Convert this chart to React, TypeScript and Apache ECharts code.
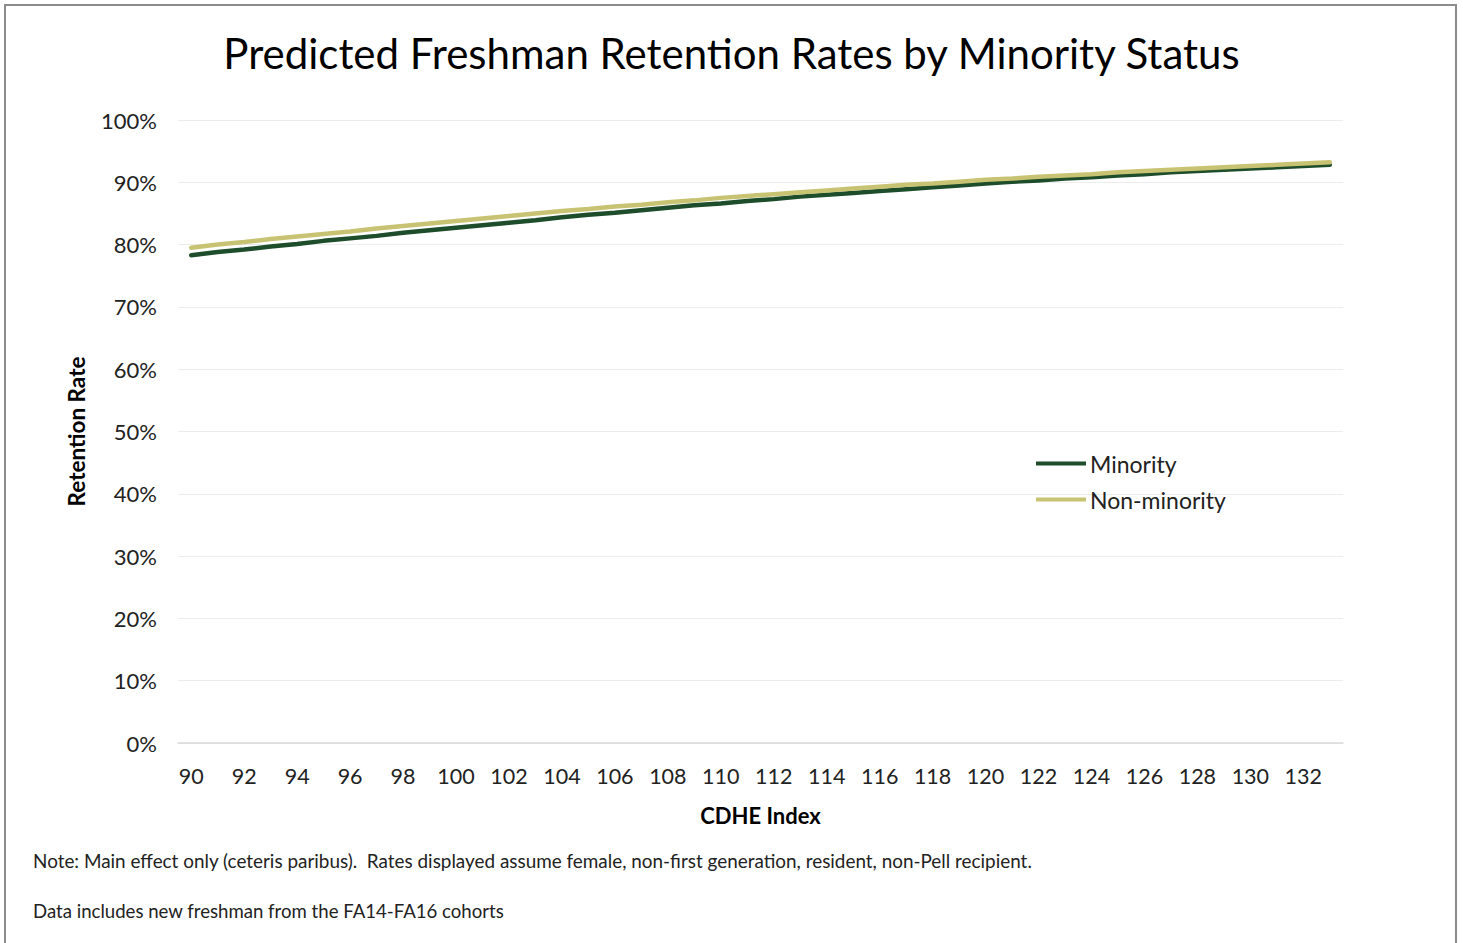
import React, { useEffect, useRef } from "react";
import * as echarts from "echarts";

const categories: string[] = [
  "90","91","92","93","94","95","96","97","98","99",
  "100","101","102","103","104","105","106","107","108","109",
  "110","111","112","113","114","115","116","117","118","119",
  "120","121","122","123","124","125","126","127","128","129",
  "130","131","132","133",
];

const minority: number[] = [
  78.3, 78.8, 79.2, 79.7, 80.1, 80.6, 81.0, 81.4, 81.9, 82.3,
  82.7, 83.1, 83.5, 83.9, 84.4, 84.8, 85.1, 85.5, 85.9, 86.3,
  86.6, 87.0, 87.3, 87.7, 88.0, 88.3, 88.6, 88.9, 89.2, 89.5,
  89.8, 90.1, 90.3, 90.6, 90.8, 91.1, 91.3, 91.6, 91.8, 92.0,
  92.2, 92.4, 92.6, 92.8,
];

const nonMinority: number[] = [
  79.5, 80.0, 80.4, 80.9, 81.3, 81.7, 82.1, 82.6, 83.0, 83.4,
  83.8, 84.2, 84.6, 85.0, 85.4, 85.7, 86.1, 86.4, 86.8, 87.1,
  87.5, 87.8, 88.1, 88.4, 88.7, 89.0, 89.3, 89.6, 89.8, 90.1,
  90.4, 90.6, 90.9, 91.1, 91.3, 91.6, 91.8, 92.0, 92.2, 92.4,
  92.6, 92.8, 93.0, 93.2,
];

const seriesNames: string[] = ["Minority", "Non-minority"];
const titleText = "Predicted Freshman Retention Rates by Minority Status";
const xAxisName = "CDHE Index";
const yAxisName = "Retention Rate";
const noteLines: string[] = [
  "Note: Main effect only (ceteris paribus).  Rates displayed assume female, non-first generation, resident, non-Pell recipient.",
  "Data includes new freshman from the FA14-FA16 cohorts",
];

const FONT = "Lato, 'Open Sans', sans-serif";

export default function App() {
  const ref = useRef<HTMLDivElement>(null);
  useEffect(() => {
    document.body.style.margin = "0";
    if (!ref.current) return;
    const chart = echarts.init(ref.current, null, { renderer: "svg" });
    chart.setOption({
      animation: false,
      backgroundColor: "#ffffff",
      textStyle: { fontFamily: FONT },
      title: {
        text: titleText,
        left: "center",
        top: 27,
        textStyle: { fontFamily: FONT, fontSize: 42, fontWeight: "normal", color: "#000" },
      },
      grid: { left: 178, right: 120, top: 120, bottom: 200, containLabel: false },
      legend: {
        orient: "vertical",
        left: 1031,
        top: 447,
        itemWidth: 50,
        itemHeight: 4,
        itemGap: 13,
        icon: "rect",
        textStyle: { fontFamily: FONT, fontSize: 23, color: "#222", padding: [0, 0, 0, -1] },
        data: [
          { name: seriesNames[0], itemStyle: { color: "#1E4D2B" } },
          { name: seriesNames[1], itemStyle: { color: "#C8C372" } },
        ],
      },
      xAxis: {
        type: "category",
        data: categories,
        boundaryGap: true,
        name: xAxisName,
        nameLocation: "middle",
        nameGap: 61,
        nameTextStyle: { fontFamily: FONT, fontSize: 22, fontWeight: "bold", color: "#000" },
        axisLine: { lineStyle: { color: "#d9d9d9", width: 1.5 } },
        axisTick: { show: false },
        axisLabel: { interval: 1, fontSize: 21.5, color: "#222", margin: 22, fontFamily: FONT },
      },
      yAxis: {
        type: "value",
        min: 0,
        max: 100,
        interval: 10,
        name: yAxisName,
        nameLocation: "middle",
        nameGap: 90,
        nameRotate: 90,
        nameTextStyle: { fontFamily: FONT, fontSize: 22.5, fontWeight: "bold", color: "#000" },
        axisLine: { show: false },
        axisTick: { show: false },
        axisLabel: { formatter: "{value}%", fontSize: 22, color: "#222", margin: 21, fontFamily: FONT },
        splitLine: { lineStyle: { color: "#ececec", width: 1 } },
      },
      series: [
        {
          name: seriesNames[0],
          type: "line",
          data: minority,
          symbol: "none",
          z: 2,
          lineStyle: { color: "#1E4D2B", width: 4.5, cap: "round" },
          itemStyle: { color: "#1E4D2B" },
        },
        {
          name: seriesNames[1],
          type: "line",
          data: nonMinority,
          symbol: "none",
          z: 3,
          lineStyle: { color: "#C8C372", width: 4.5, cap: "round" },
          itemStyle: { color: "#C8C372" },
        },
      ],
      graphic: [
        {
          type: "rect",
          shape: { x: 5, y: 5, width: 1451, height: 960 },
          style: { fill: "none", stroke: "#8c8c8c", lineWidth: 2 },
          silent: true,
        },
        {
          type: "text",
          left: 33,
          top: 851,
          style: { text: noteLines[0], fontFamily: FONT, fontSize: 18.9, fill: "#222" },
        },
        {
          type: "text",
          left: 33,
          top: 901,
          style: { text: noteLines[1], fontFamily: FONT, fontSize: 18.6, fill: "#222" },
        },
      ],
    });
    return () => chart.dispose();
  }, []);
  return <div ref={ref} style={{ width: 1463, height: 943 }} />;
}
